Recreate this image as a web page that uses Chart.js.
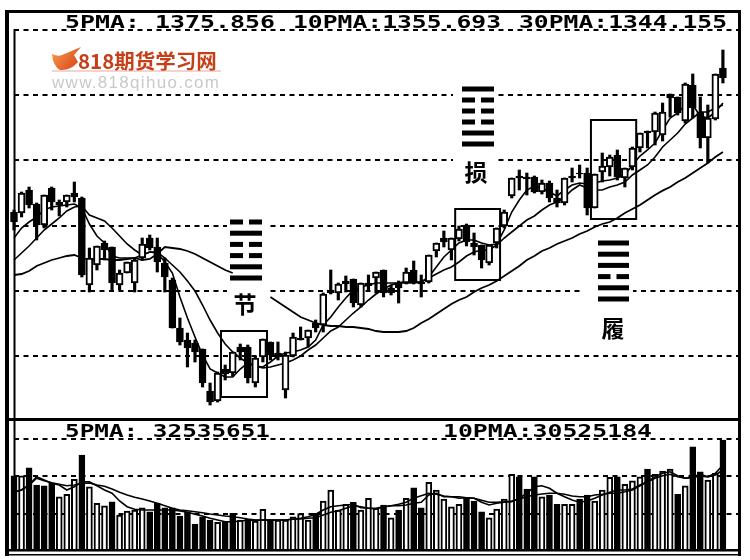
<!DOCTYPE html>
<html lang="zh">
<head>
<meta charset="UTF-8">
<title>K线</title>
<script src="https://cdn.jsdelivr.net/npm/chart.js"></script>
<style>
    body { margin: 0; background: #fff; }
    canvas { position: absolute; left: 0; top: 0; }
</style>
</head>
<body>
<canvas id="priceChart" width="750" height="560"></canvas>
<canvas id="volumeChart" width="750" height="560"></canvas>
<script>
// K线数据
const opens = [1307.8,1307.2,1321,1312.6,1300,1322.2,1313.8,1313.8,1319.2,1316.2,1264,1276,1289.2,1286.8,1264,1271.2,1265.2,1280.2,1292.2,1286.8,1277.2,1267,1238.2,1231,1229.2,1225.6,1200.4,1194.4,1213.6,1211.2,1226.8,1226.8,1205.2,1220.8,1229.8,1223.2,1201,1221.4,1232.2,1232.2,1241.2,1240,1261,1259.2,1266.4,1267.6,1252,1265.2,1268.2,1273,1262.2,1265.2,1265.2,1273,1265.8,1265.8,1284.4,1292.2,1285,1291.6,1300,1289.2,1288,1277.2,1289.2,1299.4,1317.4,1329.4,1328.8,1328.8,1319.8,1325.2,1316.2,1313.2,1329.4,1331.2,1331.2,1310.2,1331.8,1334.8,1342,1328.2,1334.8,1346.2,1356.4,1355.8,1354,1378.6,1376.8,1362.4,1384,1367.8,1352.2,1363.6,1394.2];
const closes = [1301.8,1319.2,1312,1300,1318,1313.8,1312,1318,1316.8,1270,1280.2,1287.4,1285,1265.2,1271.2,1277.8,1279,1288.6,1286.2,1277.8,1268.8,1238.2,1229.8,1226.2,1223.8,1205.2,1193.8,1211.2,1210.6,1223.8,1223.8,1208.2,1220.2,1231.6,1222,1220.8,1222,1232.8,1231,1237,1238.2,1258.6,1259.2,1264.6,1264.6,1253.2,1265.2,1263.4,1271.8,1259.2,1259.2,1262.2,1271.8,1265.2,1264.6,1282,1289.2,1289.8,1292.2,1297.6,1289.8,1286.8,1279,1288,1298.2,1307.8,1328.2,1328.2,1327.6,1319.8,1325.2,1316.2,1313.2,1328.2,1328.2,1330.6,1310.2,1330.6,1335.4,1340.8,1328.8,1334.2,1346.2,1355.2,1355.2,1367.2,1367.8,1376.2,1367.2,1384.6,1370.2,1352.2,1364.2,1390.6,1388.2];
const highs = [1309,1319.8,1322.8,1313.2,1318,1322.8,1315,1318,1325.8,1316.8,1286.2,1287.4,1290.4,1286.8,1273,1277.8,1280.2,1292.2,1294,1292.2,1280.2,1268.2,1244.2,1235.2,1231,1225.6,1205.2,1211.8,1216,1223.8,1228.6,1228,1221.4,1231.6,1229.8,1229.8,1223.8,1235.2,1238.8,1237,1243,1259.2,1273,1265.2,1269.4,1267.6,1265.2,1270,1271.8,1273,1264,1266.4,1274.2,1278.4,1270,1282,1289.2,1296.4,1292.2,1299.4,1300.6,1295.2,1288,1288,1298.2,1309,1328.2,1333,1331.2,1329.4,1327,1326.4,1321,1328.2,1334.2,1336,1334.2,1330.6,1343.2,1342,1345,1334.2,1346.8,1355.2,1356.4,1367.8,1373.2,1378.6,1376.8,1385.2,1390.6,1376.8,1372,1390.6,1405];
const lows = [1297,1304.8,1310.2,1291,1298.2,1309,1305.4,1310.8,1313.8,1268.8,1259.8,1273,1279,1261,1261,1271.2,1259.8,1279,1285,1271.8,1259.8,1238.2,1228,1214.8,1217.8,1202.8,1192,1193.8,1207,1209.4,1219,1205.2,1202.8,1217.8,1219,1219,1196.2,1220.8,1231,1226.8,1235.8,1235.8,1258.6,1255,1259.8,1250.8,1250.8,1261,1259.2,1256.8,1258,1253.2,1264.6,1264.6,1256.8,1265.2,1280.8,1286.8,1279,1290.4,1287.4,1282,1274.2,1276,1286.2,1298.2,1316.2,1321,1318,1319.2,1318.6,1313.8,1310.8,1312,1325.8,1328.2,1306,1310.2,1325.8,1329.4,1327,1322.8,1333,1343.8,1346.2,1348,1350.4,1364.8,1366,1361.2,1364.2,1346.2,1337.2,1363,1385.2];

// 均线
const ma5 = [1292.2,1298.2,1301.8,1304.8,1309,1310.8,1311.4,1312,1312.6,1310.2,1300.6,1293.4,1289.2,1281.4,1280.2,1280.2,1280.2,1282,1283.8,1283.2,1277.8,1271.2,1256.8,1244.2,1232.8,1222,1213.6,1211.2,1208.8,1208.8,1213.6,1217.2,1215.4,1214.8,1217.8,1221.4,1223.2,1223.8,1225,1226.8,1231,1240,1244.8,1250.8,1256.2,1261,1262.8,1264,1265.2,1265.2,1265.2,1265.2,1266.4,1265.8,1265.8,1268.8,1274.8,1280.8,1285,1289.2,1291,1291,1289.2,1288,1288.6,1297,1307.8,1315,1321,1323.4,1322.2,1319.8,1317.4,1321,1324,1325.2,1324.6,1325.2,1326.4,1327,1328.2,1330,1336,1341.4,1345,1349.2,1357,1364.2,1367.2,1372,1372,1365.4,1364.2,1367.8,1373.2];
const ma10 = [1279,1283.2,1287.4,1292.2,1297,1300.6,1304.2,1308.4,1310.8,1311.4,1306,1304.2,1302.4,1298.2,1293.4,1288.6,1285,1282,1283.8,1283.8,1280.2,1276,1271.8,1266.4,1260.4,1252,1243,1235.2,1228.6,1223.8,1220.2,1217.2,1215.4,1214.2,1214.8,1216,1217.2,1219,1221.4,1225,1228,1232.2,1236.4,1238.8,1243,1247.2,1250.8,1255,1258.6,1261.6,1264,1265.2,1265.2,1265.2,1265.8,1268.2,1270.6,1273,1274.8,1277.8,1281.4,1283.8,1285,1285,1288,1292.2,1295.8,1299.4,1303,1305.4,1309,1312,1313.8,1316.8,1321,1324,1322.2,1321,1321,1322.8,1324,1325.8,1330,1333,1336,1340.8,1346.8,1351,1355.2,1360.6,1364.2,1367.8,1367.8,1370.2,1372];
const ma30 = [1270,1270.6,1272.4,1275.4,1277.2,1279,1280.2,1281.4,1282,1280.2,1279,1279.6,1279.6,1279,1279,1279.6,1280.2,1279,1279.6,1282.6,1286.8,1286.2,1285.6,1284.4,1282.6,1280.2,1277.8,1275.4,1273,1271.2,null,null,null,null,1256.8,1253.8,1250.8,1247.8,1244.8,1243,1241.2,1240,1239.4,1239.4,1238.8,1238.8,1238.2,1237.6,1236.4,1235.8,1235.8,1235.8,1236.4,1238.2,1241.2,1243.6,1246.6,1249.6,1252.6,1255,1256.8,1259.8,1262.2,1264,1266.4,1269.4,1272.4,1275.4,1279,1281.4,1284.4,1286.2,1288.6,1290.4,1292.2,1294.6,1296.4,1298.8,1300.6,1301.8,1304.2,1307.2,1309.6,1312,1315,1318,1320.6,1322.8,1325.8,1328.2,1331.2,1334.2,1337.2,1340.8,1343.8];

// 成交量 (百万)，H 为空心，F 为实心
const volumes = [30.1,30.1,33.3,26.4,26.1,27.1,21.7,22.7,28.7,38.4,25.7,19.1,18.1,19.7,14.4,16,16.4,17.3,15.7,19.1,17.3,17.3,14,15.7,10.8,13.7,12.4,11.5,11.5,15.1,12.4,12.7,12,16.7,12.4,12.4,12.4,13.7,15,12.4,15.1,20,24.4,16.4,18.7,19.5,16.4,21.1,17.1,18.4,13.3,16.4,21.1,25.3,17.3,27.5,24.4,20.8,17.7,18.7,21.3,20,15.7,13.3,16.8,20.8,30.7,29.7,24.8,29.7,21.7,22.4,18.7,18.7,18.7,20.8,22.4,20,24.4,29.5,29.7,26.7,28.1,29.7,32.8,30.7,32,32.8,22.7,26.1,41.7,31.7,28.4,31.1,44.4];
const volumeKinds = "FHFFFFHHHF" + "HHHFHHHHFF" + "FFFFFFFHFF" + "HFHHFHHHHH" + "FHHHHFHHHF" + "HFHFFHHHHH" + "FFFHHHHFFF" + "HFFHHFFHHH" + "FHHHFHHHFH" + "FFHHF";
const volumeMa5 = [23.7,24.4,26.4,29.7,28.4,27.1,26.4,24.4,25.7,27.7,27.7,26.1,24.4,23.1,20,17.7,16.7,16.4,16.4,16.4,16.4,16.4,16,15.5,14.7,14,13.1,12.4,11.7,11.7,12,12.3,12.3,12.4,12.4,12.4,12.4,12.8,13.1,13.7,14.7,16.4,17.7,18.1,18.4,18.7,17.3,17.1,17.1,17.7,18.1,18.1,18.4,19.1,19.5,22.4,23.1,21.7,21.7,21.1,21.3,21.1,19.5,18.4,19.1,19.5,19.7,21.1,23.1,25.7,26.1,25.1,23.1,21.7,20.4,19.5,20,21.1,22.4,23.5,24.4,24.4,24.8,26.4,27.7,29.7,31.1,31.7,30.1,29.1,29.7,30.7,29.7,31.1,34.4];
const volumeMa10 = [23.5,24.4,26.4,29.1,28.1,27.3,26.7,26.1,26.4,27.1,27.2,26.4,25.9,24.8,23.5,22.4,21.5,20.8,20,19.1,18.1,17.1,16.4,16.1,15.7,15.3,14.8,14.4,14,13.7,13.3,12.8,12.4,12.4,12.4,12.4,12.4,12.7,12.8,13.1,13.3,14.4,15.5,16.1,17.1,18.1,17.7,17.1,16.8,17.6,18.1,18.7,19.5,21.1,22.1,23.1,22.7,22,21.7,21.7,21.3,21.1,20.3,19.5,19.5,19.7,20,20.8,21.7,22.4,22.8,23.1,23.1,22.7,22,21.7,21.7,22.4,22.7,23.1,23.1,23.7,24.4,26.1,27.7,29.1,30.1,30.7,29.7,29.1,29.3,30,29.6,30.4,32.4];

// 横向虚线
const priceLevels = [1417.3,1378,1338.8,1299.6,1260.4,1221.2];
const volumeLevels = [15,30,45];

// 时间轴多留两格，K线右边有空白
const days = [];
for (let i = 0; i < 97; i++) days.push(String(i + 1));

// 三个方框：起止K线 + 价格
const boxes = [
    { from: 27.45, to: 33.55, top: 1236.4, bottom: 1196.8 },
    { from: 58.5, to: 64.45, top: 1309.6, bottom: 1267 },
    { from: 76.5, to: 82.5, top: 1363, bottom: 1303.6 }
];

// 卦象：1 阳爻，0 阴爻，从上到下
const hexagrams = [
    { name: "节", lines: [0,1,0,0,1,1], left: 230, right: 262, top: 222, step: 11.2, labelY: 304, labelX: 245 },
    { name: "损", lines: [1,0,0,0,1,1], left: 462, right: 494, top: 89, step: 11, labelY: 172, labelX: 476 },
    { name: "履", lines: [1,1,1,0,1,1], left: 598, right: 629, top: 243, step: 11.2, labelY: 328, labelX: 613 }
];

const monoFont = '"DejaVu Sans Mono"';
const cjkFont = '"Noto Sans CJK SC"';

// 拉宽的等宽字
function wideText(ctx, text, x, baseline, width) {
    ctx.save();
    ctx.font = "bold 18px " + monoFont;
    ctx.fillStyle = "#000";
    ctx.textAlign = "left";
    ctx.textBaseline = "alphabetic";
    const w = ctx.measureText(text).width;
    ctx.translate(x, baseline);
    ctx.scale(width / w, 1);
    ctx.fillText(text, 0, 0);
    ctx.restore();
}

function drawLogo(ctx) {
    const g = ctx.createLinearGradient(52, 47, 82, 70);
    g.addColorStop(0, "#f5a050");
    g.addColorStop(1, "#d83a10");
    ctx.fillStyle = g;
    ctx.beginPath();
    ctx.moveTo(52, 54);
    ctx.quadraticCurveTo(58, 57, 62, 55);
    ctx.lineTo(81, 47);
    ctx.lineTo(74, 55);
    ctx.lineTo(78, 62);
    ctx.quadraticCurveTo(70, 71, 60, 70);
    ctx.quadraticCurveTo(53, 66, 52, 54);
    ctx.fill();

    ctx.fillStyle = "#c63f18";
    ctx.font = "bold 20.5px " + cjkFont;
    ctx.textAlign = "left";
    ctx.textBaseline = "alphabetic";
    ctx.fillText("818期货学习网", 78, 69);

    ctx.fillStyle = "#e9a99a";
    ctx.fillRect(52, 70.5, 169, 1);

    ctx.fillStyle = "#c9c9c9";
    ctx.font = '17px "Liberation Sans"';
    ctx.letterSpacing = "1.3px";
    ctx.fillText("www.818qihuo.com", 52, 88);
    ctx.letterSpacing = "0px";
}

const priceDecor = {
    id: "priceDecor",
    // 卦象和文字周围的虚线是断开的
    beforeDatasetsDraw(chart) {
        const ctx = chart.ctx;
        ctx.fillStyle = "#fff";
        ctx.fillRect(227, 215, 43, 85);
        ctx.fillRect(453, 85, 45, 85);
        ctx.fillRect(582, 283, 51, 16);
    },
    afterDraw(chart) {
        const ctx = chart.ctx;
        const x = chart.scales.x, y = chart.scales.y;
        ctx.save();

        // 外框
        ctx.fillStyle = "#000";
        ctx.fillRect(5, 10, 736, 3);
        ctx.fillRect(5, 10, 4, 546);
        ctx.fillRect(738, 10, 3, 546);
        ctx.fillRect(13.5, 29, 2, 390);
        ctx.fillRect(5, 418, 736, 3);

        ctx.strokeStyle = "#000";
        ctx.lineWidth = 2;
        boxes.forEach(b => {
            const l = x.getPixelForValue(b.from), r = x.getPixelForValue(b.to);
            const t = y.getPixelForValue(b.top), m = y.getPixelForValue(b.bottom);
            ctx.strokeRect(l, t, r - l, m - t);
        });

        hexagrams.forEach(h => {
            const mid = (h.left + h.right) / 2;
            h.lines.forEach((solid, n) => {
                const top = h.top + n * h.step - 2.5;
                if (solid) {
                    ctx.fillRect(h.left, top, h.right - h.left, 5);
                } else {
                    ctx.fillRect(h.left, top, mid - 3 - h.left, 5);
                    ctx.fillRect(mid + 3, top, h.right - mid - 3, 5);
                }
            });
            ctx.font = "bold 23px " + cjkFont;
            ctx.textAlign = "center";
            ctx.textBaseline = "middle";
            ctx.fillText(h.name, h.labelX, h.labelY);
        });

        wideText(ctx, "5PMA: 1375.856", 65, 28, 210);
        wideText(ctx, "10PMA:1355.693", 293, 28, 208);
        wideText(ctx, "30PMA:1344.155", 519, 28, 208);
        drawLogo(ctx);
        ctx.restore();
    }
};

const volumeDecor = {
    id: "volumeDecor",
    afterDraw(chart) {
        const ctx = chart.ctx;
        ctx.save();
        ctx.fillStyle = "#000";
        ctx.fillRect(13.5, 420, 2, 131);
        ctx.fillRect(9, 549, 729, 2.5);
        ctx.fillRect(5, 554, 736, 1.5);
        wideText(ctx, "5PMA: 32535651", 65, 437, 205);
        wideText(ctx, "10PMA:30525184", 443, 437, 209);
        ctx.restore();
    }
};

function lineSet(values, order, width) {
    return {
        type: "line",
        data: values,
        borderColor: "#000",
        borderWidth: width,
        pointRadius: 0,
        tension: 0,
        fill: false,
        spanGaps: false,
        order: order,
        clip: false
    };
}

function gridScale(min, max, levels) {
    return {
        min: min,
        max: max,
        afterBuildTicks: scale => { scale.ticks = levels.map(v => ({ value: v })); },
        ticks: { display: false },
        border: { display: false, dash: [5, 4.5] },
        grid: { color: "#000", lineWidth: 2, drawTicks: false }
    };
}

const xScale = {
    offset: false,
    ticks: { display: false },
    border: { display: false },
    grid: { display: false, drawTicks: false }
};

const baseOptions = {
    responsive: false,
    animation: false,
    events: [],
    plugins: { legend: { display: false }, tooltip: { enabled: false } }
};

new Chart(document.getElementById("priceChart"), {
    data: {
        labels: days,
        datasets: [
            lineSet(ma5, 3, 1.6),
            lineSet(ma10, 3, 1.6),
            lineSet(ma30, 3, 1.8),
            {
                // 影线
                type: "bar",
                data: highs.map((h, i) => [lows[i], h]),
                backgroundColor: "#000",
                barThickness: 2.5,
                grouped: false,
                order: 2,
                clip: false
            },
            {
                // 实体：下跌实心，上涨空心
                type: "bar",
                data: opens.map((o, i) => [o, closes[i]]),
                backgroundColor: opens.map((o, i) => closes[i] > o ? "#fff" : "#000"),
                borderColor: "#000",
                borderWidth: 2,
                borderSkipped: false,
                barThickness: 7,
                grouped: false,
                order: 1,
                clip: false
            }
        ]
    },
    options: {
        ...baseOptions,
        layout: { padding: { left: 14, right: 12, top: 29.5, bottom: 142 } },
        scales: { x: xScale, y: gridScale(1184.2, 1417.3, priceLevels) }
    },
    plugins: [priceDecor]
});

new Chart(document.getElementById("volumeChart"), {
    data: {
        labels: days,
        datasets: [
            lineSet(volumeMa5, 1, 1.6),
            lineSet(volumeMa10, 1, 1.6),
            {
                type: "bar",
                data: volumes,
                backgroundColor: volumes.map((v, i) => volumeKinds[i] === "H" ? "#fff" : "#000"),
                borderColor: "#000",
                borderWidth: 2,
                borderSkipped: false,
                barThickness: 6,
                grouped: false,
                order: 2,
                clip: false
            }
        ]
    },
    options: {
        ...baseOptions,
        layout: { padding: { left: 14, right: 12, top: 420, bottom: 9 } },
        scales: { x: xScale, y: gridScale(0, 52.4, volumeLevels) }
    },
    plugins: [volumeDecor]
});
</script>
</body>
</html>
